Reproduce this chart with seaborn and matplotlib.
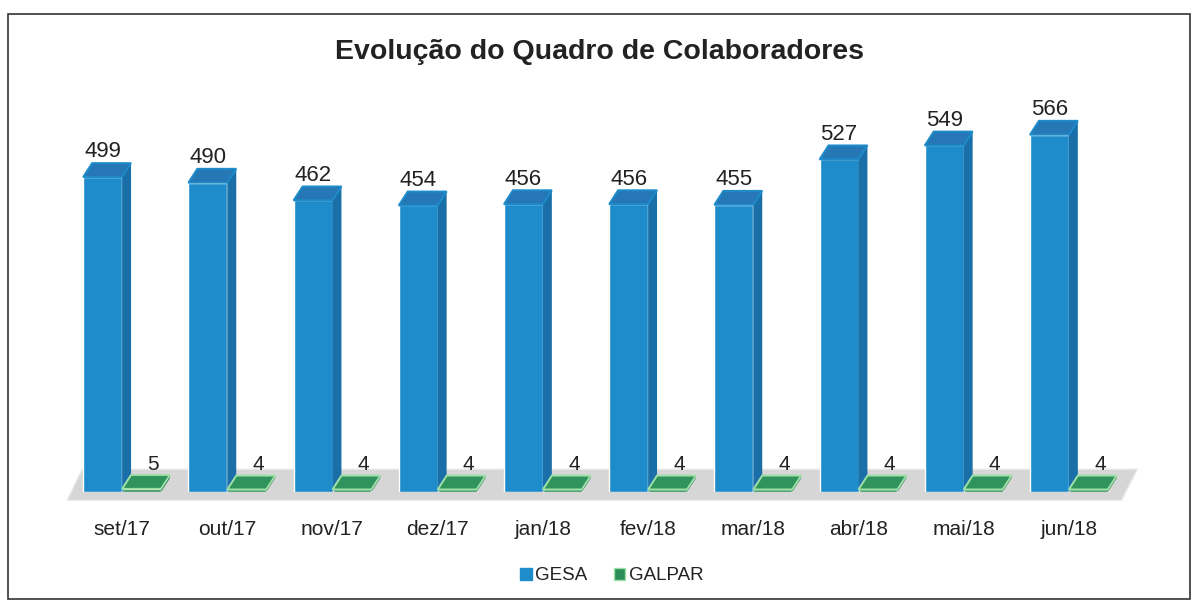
import matplotlib
matplotlib.use("Agg")
import matplotlib.pyplot as plt
from matplotlib.patches import Polygon, Rectangle, Patch
import seaborn as sns
import pandas as pd

# dados do gráfico
meses = ['set/17', 'out/17', 'nov/17', 'dez/17', 'jan/18',
         'fev/18', 'mar/18', 'abr/18', 'mai/18', 'jun/18']
gesa = [499, 490, 462, 454, 456, 456, 455, 527, 549, 566]
galpar = [5, 4, 4, 4, 4, 4, 4, 4, 4, 4]
series = ['GESA', 'GALPAR']

frente = {'GESA': '#1e8bca', 'GALPAR': '#2b8f57'}
lado = {'GESA': '#1a6fa8', 'GALPAR': '#23744a'}
topo = {'GESA': '#2577b6', 'GALPAR': '#2f935b'}
borda = {'GESA': '#1e8bca', 'GALPAR': '#9fe0a8'}

df = pd.DataFrame({
    'mes': meses * 2,
    'valor': gesa + galpar,
    'serie': ['GESA'] * len(gesa) + ['GALPAR'] * len(galpar),
})

sns.set_theme(style='white')
plt.rcParams['font.family'] = ['Liberation Sans', 'DejaVu Sans']

fig = plt.figure(figsize=(11.95, 6.03), dpi=100)
ax = fig.add_axes([69.5 / 1195, 111 / 603, 1052 / 1195, 404 / 603])

sns.barplot(data=df, x='mes', y='valor', hue='serie', palette=frente,
            width=0.74, gap=0, errorbar=None, saturation=1,
            legend=False, ax=ax, zorder=3)
ax.set_ylim(0, 640)
ax.set_xlim(-0.5, len(meses) - 0.5)

# profundidade do efeito 3D (em unidades de dados)
dx, dy = 0.085, 22

# piso cinza
x0, x1 = ax.get_xlim()
piso = Polygon([(x0 - 0.02, -13), (x1 + 0.0, -13), (x1 + 0.15, 36), (x0 + 0.12, 36)],
               closed=True, facecolor='#d6d6d6', edgecolor='#e8e8e8',
               zorder=1, clip_on=False)
ax.add_patch(piso)

# faces laterais e superiores a partir das barras desenhadas
for container, serie in zip(ax.containers, series):
    for bar in container:
        bx0 = bar.get_x()
        bx1 = bx0 + bar.get_width()
        h = bar.get_height()
        ax.add_patch(Polygon([(bx1, 0), (bx1 + dx, dy), (bx1 + dx, h + dy), (bx1, h)],
                             closed=True, facecolor=lado[serie], edgecolor='none',
                             zorder=3, clip_on=False))
        ax.add_patch(Polygon([(bx0, h), (bx0 + dx, h + dy), (bx1 + dx, h + dy), (bx1, h)],
                             closed=True, facecolor=topo[serie], edgecolor=borda[serie],
                             linewidth=1.4, zorder=4, clip_on=False))
        cx = bx0 + bar.get_width() / 2
        if serie == 'GESA':
            ax.text(cx, h + dy + 1, f'{h:.0f}', ha='center', va='bottom',
                    fontsize=16, color='#222222', zorder=5)
        else:
            ax.text(cx + 0.11, h + dy + 2, f'{h:.0f}', ha='center', va='bottom',
                    fontsize=15, color='#222222', zorder=5)

sns.despine(ax=ax, left=True, bottom=True)
ax.set_yticks([])
ax.set_xlabel('')
ax.set_ylabel('')
ax.tick_params(axis='x', length=0, pad=20, labelsize=15, labelcolor='#222222')
ax.patch.set_alpha(0)

# título
fig.text(0.502, 1 - 52 / 603, 'Evolução do Quadro de Colaboradores',
         ha='center', va='center', fontsize=20.5, fontweight='bold', color='#222222')

# legenda
handles = [Patch(facecolor=frente[s], edgecolor=borda[s] if s == 'GALPAR' else frente[s], label=s)
           for s in series]
fig.legend(handles=handles, loc='center', bbox_to_anchor=(0.512, 1 - 576 / 603),
           ncol=2, frameon=False, fontsize=13.5, handlelength=0.6, handleheight=0.6,
           handletextpad=0.2, columnspacing=1.4, labelcolor='#222222')

# moldura
fig.patches.append(Rectangle((8 / 1195, 4 / 603), 1182 / 1195, 585 / 603,
                             transform=fig.transFigure, fill=False,
                             edgecolor='#333333', linewidth=1.2))

fig.savefig('out.png', dpi=100)
